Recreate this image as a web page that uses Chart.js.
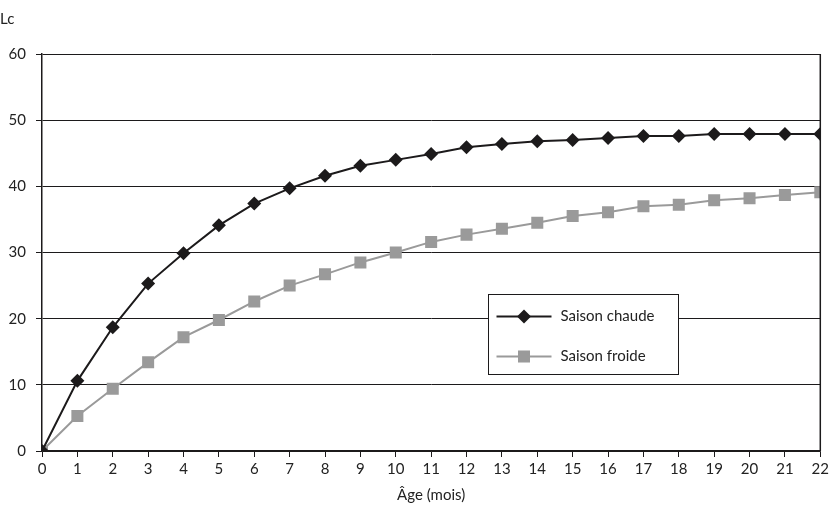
<!DOCTYPE html>
<html>
<head>
<meta charset="utf-8">
<script src="https://cdn.jsdelivr.net/npm/chart.js@4"></script>
<style>
  body { margin: 0; background: #fff; }
</style>
</head>
<body>
<canvas id="growthChart" width="832" height="510"></canvas>
<script>
/// === DATA === ///
const ages = [0, 1, 2, 3, 4, 5, 6, 7, 8, 9, 10, 11, 12, 13, 14, 15, 16, 17, 18, 19, 20, 21, 22];
const saisonChaude = [0, 10.6, 18.7, 25.3, 29.9, 34.1, 37.4, 39.7, 41.6, 43.1, 44.0, 44.9, 45.9, 46.4, 46.8, 47.0, 47.3, 47.6, 47.6, 47.9, 47.9, 47.9, 47.9];
const saisonFroide = [0, 5.3, 9.4, 13.4, 17.2, 19.8, 22.6, 25.0, 26.7, 28.5, 30.0, 31.6, 32.7, 33.6, 34.5, 35.5, 36.1, 37.0, 37.2, 37.9, 38.2, 38.7, 39.1];
const yTicks = [0, 10, 20, 30, 40, 50, 60];

const FONT = 'Lato, "Open Sans", sans-serif';
const BLACK = '#1c1a1b';
const GREY = '#9a9a9a';

const toPoints = values => ages.map((age, i) => ({ x: age, y: values[i] }));

// right edge of the plot frame
const frame = {
  id: 'frame',
  afterDraw(chart) {
    const { ctx, chartArea } = chart;
    ctx.save();
    ctx.strokeStyle = BLACK;
    ctx.lineWidth = 1.5;
    ctx.beginPath();
    ctx.moveTo(chartArea.right, chartArea.top);
    ctx.lineTo(chartArea.right, chartArea.bottom);
    ctx.stroke();
    ctx.restore();
  }
};

// boxed legend inside the plot
const insideLegend = {
  id: 'insideLegend',
  afterDraw(chart) {
    const { ctx, chartArea } = chart;
    const x = chartArea.left + 446.5;
    const y = chartArea.top + 240.5;
    ctx.save();
    ctx.fillStyle = '#fff';
    ctx.fillRect(x, y, 190, 80);
    ctx.strokeStyle = BLACK;
    ctx.lineWidth = 1;
    ctx.strokeRect(x, y, 190, 80);
    chart.data.datasets.forEach((ds, i) => {
      const ly = y + 22 + i * 40;
      ctx.strokeStyle = ds.borderColor;
      ctx.lineWidth = ds.borderWidth;
      ctx.beginPath();
      ctx.moveTo(x + 8, ly);
      ctx.lineTo(x + 63, ly);
      ctx.stroke();
      ctx.fillStyle = ds.pointBackgroundColor;
      Chart.helpers.drawPoint(ctx, { pointStyle: ds.pointStyle, radius: ds.pointRadius, borderWidth: 0 }, x + 35.5, ly);
      ctx.fillStyle = '#222';
      ctx.font = '15px ' + FONT;
      ctx.textBaseline = 'middle';
      ctx.fillText(ds.label, x + 72, ly);
    });
    ctx.restore();
  }
};

new Chart(
  document.getElementById('growthChart'),
  {
    type: 'line',
    data: {
      datasets: [
        {
          label: 'Saison chaude',
          data: toPoints(saisonChaude),
          borderColor: BLACK,
          borderWidth: 2,
          pointStyle: 'rectRot',
          pointRadius: 7,
          pointBackgroundColor: BLACK,
          pointBorderWidth: 0,
          tension: 0
        },
        {
          label: 'Saison froide',
          data: toPoints(saisonFroide),
          borderColor: GREY,
          borderWidth: 2,
          pointStyle: 'rect',
          pointRadius: 8.5,
          pointBackgroundColor: GREY,
          pointBorderWidth: 0,
          tension: 0
        }
      ]
    },
    options: {
      responsive: false,
      animation: false,
      layout: { padding: { top: 0, right: 10, left: 0, bottom: 6 } },
      plugins: {
        legend: { display: false },
        tooltip: { enabled: false },
        title: {
          display: true,
          text: 'Lc',
          align: 'start',
          color: '#222',
          font: { family: FONT, size: 15, weight: 'normal' },
          padding: { top: 10, bottom: 26, left: 8 }
        }
      },
      scales: {
        x: {
          type: 'linear',
          min: 0,
          max: 22,
          ticks: { stepSize: 1, color: '#222', font: { family: FONT, size: 15 }, padding: 3, autoSkip: false, maxRotation: 0 },
          grid: { drawOnChartArea: false, drawTicks: true, tickLength: 6, color: BLACK },
          border: { color: BLACK, width: 1.5 },
          title: { display: true, text: 'Âge (mois)', color: '#222', font: { family: FONT, size: 15 }, padding: { top: 5, bottom: 0 } }
        },
        y: {
          min: 0,
          max: 60,
          afterBuildTicks: scale => { scale.ticks = yTicks.map(v => ({ value: v })); },
          afterFit: scale => { scale.width = 42; },
          ticks: { color: '#222', font: { family: FONT, size: 15 }, padding: 10 },
          grid: { color: BLACK, lineWidth: 1, tickLength: 6 },
          border: { color: BLACK, width: 1.5 }
        }
      }
    },
    plugins: [frame, insideLegend]
  }
);
</script>
</body>
</html>
